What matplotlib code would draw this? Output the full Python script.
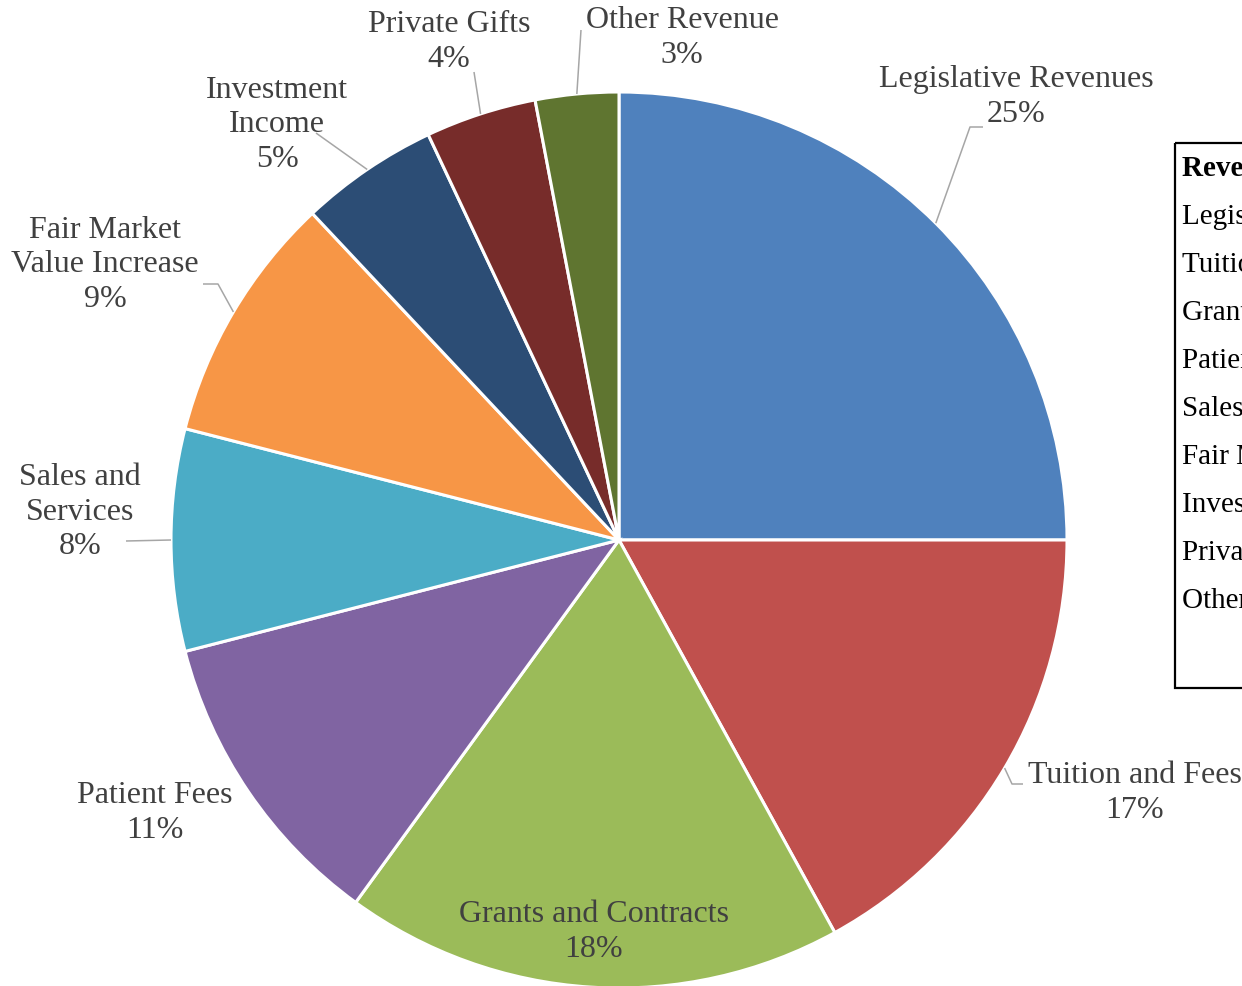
import numpy as np
import matplotlib.pyplot as plt
from matplotlib.patches import Rectangle

plt.rcParams['font.family'] = ['Liberation Serif', 'DejaVu Serif']

# revenue sources, clockwise from 12 o'clock
sources = [
    "Legislative Revenues",
    "Tuition and Fees",
    "Grants and Contracts",
    "Patient Fees",
    "Sales and Services",
    "Fair Market Value Increase",
    "Investment Income",
    "Private Gifts",
    "Other Revenue",
]
shares = [25, 17, 18, 11, 8, 9, 5, 4, 3]

# how each data label is broken over lines
label_names = [
    "Legislative Revenues",
    "Tuition and Fees",
    "Grants and Contracts",
    "Patient Fees",
    "Sales and\nServices",
    "Fair Market\nValue Increase",
    "Investment\nIncome",
    "Private Gifts",
    "Other Revenue",
]

colors = ["#4F81BD", "#C0504D", "#9BBB59", "#8064A2", "#4BACC6",
          "#F79646", "#2C4D75", "#772C2A", "#5F7530"]

W, H = 1242, 986
fig = plt.figure(figsize=(W / 100, H / 100), dpi=100)
ax = fig.add_axes([0, 0, 1, 1])

cx, cy, r = 619, 540, 448
wedges, _ = ax.pie(shares, colors=colors, startangle=-90, counterclock=True,
                   center=(cx, cy), radius=r, frame=True,
                   wedgeprops=dict(edgecolor='white', linewidth=2.2))
ax.set_xlim(0, W)
ax.set_ylim(H, 0)  # pixel-style coordinates, y downwards
ax.set_aspect('equal')
ax.axis('off')

# label centre and leader elbow for each slice (None = no leader)
label_pos = [(1016, 97), (1135, 793), (594, 932), (155, 813), (80, 512),
             (105, 265), (277, 125), (449, 42), (682, 38)]
elbows = [[(970, 127), (983, 127)],
          [(1012, 784), (1023, 784)],
          None,
          None,
          [(126, 541)],
          [(218, 284), (203, 284)],
          [(316, 133)],
          [(474, 72)],
          [(581, 30)]]

gray_txt = "#404040"
for w, name, val, pos, elb in zip(wedges, label_names, shares, label_pos, elbows):
    ax.text(pos[0], pos[1], f"{name}\n{val}%", ha='center', va='center',
            fontsize=23, color=gray_txt, linespacing=1.25)
    if elb:
        mid = np.deg2rad((w.theta1 + w.theta2) / 2)
        x0 = cx + r * np.cos(mid)
        y0 = cy + r * np.sin(mid)
        xs = [x0] + [p[0] for p in elb]
        ys = [y0] + [p[1] for p in elb]
        ax.plot(xs, ys, color="#A6A6A6", lw=1.1, solid_capstyle='butt')

# side table listing the sources (runs past the right edge)
ax.add_patch(Rectangle((1175, 143), 200, 545, fill=False, edgecolor='black',
                       lw=1.6, clip_on=False))
ax.text(1182, 168, "Revenue Source", ha='left', va='center', fontsize=21,
        fontweight='bold', color='black')
for i, name in enumerate(sources):
    ax.text(1182, 217 + i * 48, name, ha='left', va='center', fontsize=21,
            color='black')

fig.savefig("out.png", dpi=100)
